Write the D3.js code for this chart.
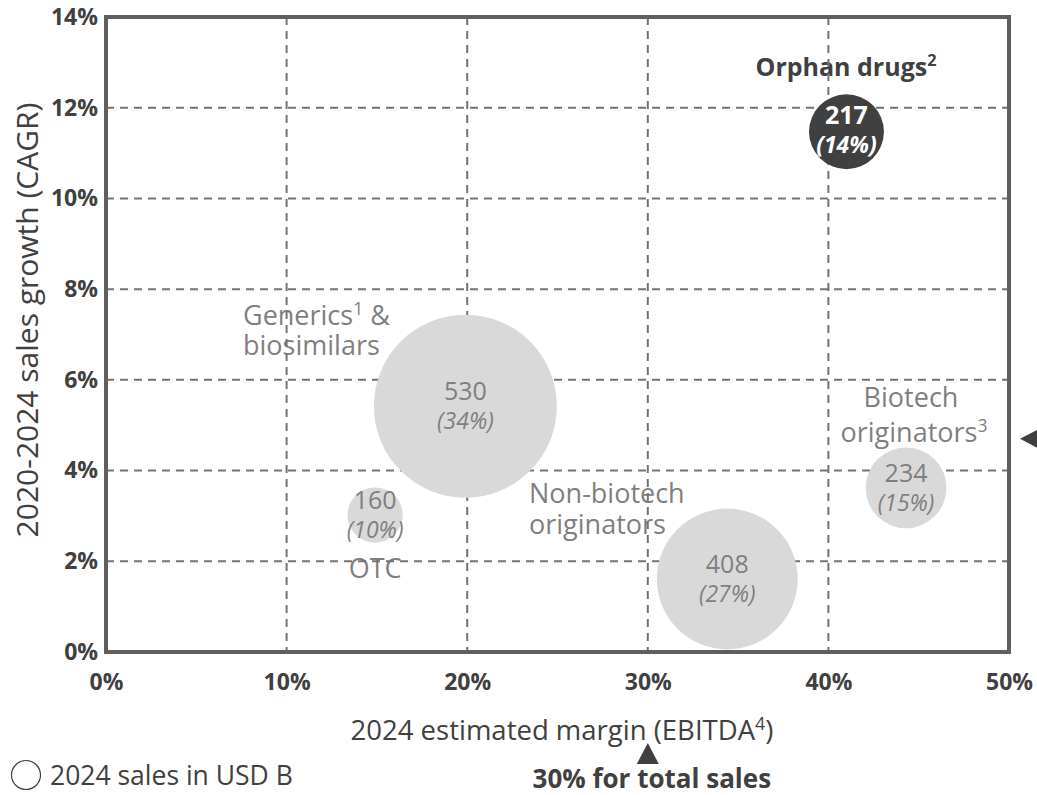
<!DOCTYPE html>
<html>
<head>
<meta charset="utf-8">
<script src="https://cdn.jsdelivr.net/npm/d3@7/dist/d3.min.js"></script>
<style>
  html, body { margin: 0; padding: 0; background: #fff; }
  svg { display: block; font-family: "Open Sans", "Noto Sans", sans-serif; }
</style>
</head>
<body>
<svg id="chart" width="1037" height="795"></svg>
<script>
// Segments of the pharma market
const segments   = ["Orphan drugs", "Generics & biosimilars", "OTC", "Non-biotech originators", "Biotech originators"];
const margin2024 = [0.410, 0.199, 0.149, 0.344, 0.443];   // EBITDA margin (x)
const cagr       = [0.1147, 0.0542, 0.0302, 0.0161, 0.0362]; // 2020-2024 growth (y)
const sales2024  = [217, 530, 160, 408, 234];                // USD B (bubble size)
const shares     = ["14%", "34%", "10%", "27%", "15%"];
const highlight  = [true, false, false, false, false];

const xTicks = [0, 0.1, 0.2, 0.3, 0.4, 0.5];
const yTicks = [0, 0.02, 0.04, 0.06, 0.08, 0.10, 0.12, 0.14];

const totalMargin = 0.30;   // margin for total sales
const totalGrowth = 0.047;  // growth for total sales

const svg = d3.select("#chart");

const x = d3.scaleLinear().domain([0, 0.5]).range([106, 1009]);
const y = d3.scaleLinear().domain([0, 0.14]).range([652, 17]);
const r = d3.scaleLinear().domain([0, 530]).range([0, 91.5]);

const fmt = d3.format(".0%");
const dark = "#404040", mid = "#7f7f7f", light = "#d9d9d9";

// Text with optional superscript parts: strings are plain runs, {s: "1"} is raised
function supText(g, parts, opts) {
  const t = g.append("text").attr("x", opts.x).attr("y", opts.y)
    .attr("text-anchor", opts.anchor || "start");
  let raised = false;
  parts.forEach(p => {
    if (typeof p === "object") {
      t.append("tspan").attr("dy", -10).attr("font-size", "0.65em").text(p.s);
      raised = true;
    } else {
      const ts = t.append("tspan").text(p);
      if (raised) { ts.attr("dy", 10); raised = false; }
    }
  });
  return t;
}

// Category labels (sit under the grid)
const labels = svg.append("g").attr("font-size", 27).attr("fill", mid);
supText(labels, ["Generics", {s: "1"}, " &"], {x: 243, y: 325});
supText(labels, ["biosimilars"], {x: 243, y: 355});
supText(labels, ["OTC"], {x: x(margin2024[2]), y: 578, anchor: "middle"});
supText(labels, ["Non-biotech"], {x: 529, y: 503});
supText(labels, ["originators"], {x: 529, y: 534});
supText(labels, ["Biotech"], {x: 911, y: 407, anchor: "middle"});
supText(labels, ["originators", {s: "3"}], {x: 914, y: 442, anchor: "middle"});

const orphan = supText(svg, ["Orphan drugs", {s: "2"}], {x: 846, y: 76, anchor: "middle"});
orphan.attr("font-size", 25).attr("font-weight", 700).attr("fill", dark);

// Dashed grid
const grid = svg.append("g").attr("stroke", "#737373").attr("stroke-width", 2)
  .attr("stroke-dasharray", "8,6");
grid.selectAll("line.v").data(xTicks.slice(1, -1)).join("line")
  .attr("x1", d => x(d)).attr("x2", d => x(d))
  .attr("y1", y(0.14)).attr("y2", y(0));
grid.selectAll("line.h").data(yTicks.slice(1, -1)).join("line")
  .attr("x1", x(0)).attr("x2", x(0.5))
  .attr("y1", d => y(d)).attr("y2", d => y(d));

// Bubbles
const data = segments.map((s, i) => ({
  name: s, mx: margin2024[i], gy: cagr[i], v: sales2024[i], share: shares[i], hi: highlight[i]
}));

const bub = svg.append("g").selectAll("g").data(data).join("g")
  .attr("transform", d => `translate(${x(d.mx)},${y(d.gy)})`);
bub.append("circle").attr("r", d => r(d.v)).attr("fill", d => d.hi ? dark : light);
bub.append("text").attr("text-anchor", "middle")
  .attr("y", d => d.hi ? -8 : -6)
  .attr("font-size", 25)
  .attr("font-weight", d => d.hi ? 700 : 400)
  .attr("fill", d => d.hi ? "#fff" : mid)
  .text(d => d.v);
bub.append("text").attr("text-anchor", "middle")
  .attr("y", d => d.hi ? 21 : 23)
  .attr("font-size", 23).attr("font-style", "italic")
  .attr("font-weight", d => d.hi ? 700 : 400)
  .attr("fill", d => d.hi ? "#fff" : mid)
  .text(d => `(${d.share})`);

// Frame
svg.append("rect")
  .attr("x", x(0)).attr("y", y(0.14))
  .attr("width", x(0.5) - x(0)).attr("height", y(0) - y(0.14))
  .attr("fill", "none").attr("stroke", "#5f5f5f").attr("stroke-width", 4);

// Axes tick labels
const xAxis = d3.axisBottom(x).tickValues(xTicks).tickFormat(fmt).tickSize(0).tickPadding(22);
const gx = svg.append("g").attr("transform", `translate(0,${y(0)})`).call(xAxis);
const yAxis = d3.axisLeft(y).tickValues(yTicks).tickFormat(fmt).tickSize(0).tickPadding(8);
const gy = svg.append("g").attr("transform", `translate(${x(0)},0)`).call(yAxis);
[gx, gy].forEach(g => {
  g.select(".domain").remove();
  g.selectAll("text").attr("font-family", "Open Sans, sans-serif")
    .attr("font-size", 23).attr("font-weight", 700).attr("fill", dark);
});

// Axis titles
const xt = supText(svg, ["2024 estimated margin (EBITDA", {s: "4"}, ")"], {x: 562, y: 740, anchor: "middle"});
xt.attr("font-size", 27.5).attr("fill", dark);

svg.append("text")
  .attr("transform", `translate(38,320) rotate(-90)`)
  .attr("text-anchor", "middle").attr("font-size", 30).attr("fill", dark)
  .text("2020-2024 sales growth (CAGR)");

// Markers for total sales
const tx = x(totalMargin);
svg.append("path")
  .attr("d", `M${tx},743 L${tx + 11},764 L${tx - 11},764 Z`).attr("fill", dark);
svg.append("text").attr("x", tx + 4).attr("y", 788).attr("text-anchor", "middle")
  .attr("font-size", 26).attr("font-weight", 700).attr("fill", dark)
  .text(fmt(totalMargin) + " for total sales");

const ty = y(totalGrowth);
svg.append("path")
  .attr("d", `M1020,${ty} L1041,${ty - 11} L1041,${ty + 11} Z`).attr("fill", dark);

// Legend
svg.append("circle").attr("cx", 26).attr("cy", 775).attr("r", 14.5)
  .attr("fill", "none").attr("stroke", dark).attr("stroke-width", 1.2);
svg.append("text").attr("x", 50).attr("y", 785).attr("font-size", 26.5).attr("fill", dark)
  .text("2024 sales in USD B");
</script>
</body>
</html>
